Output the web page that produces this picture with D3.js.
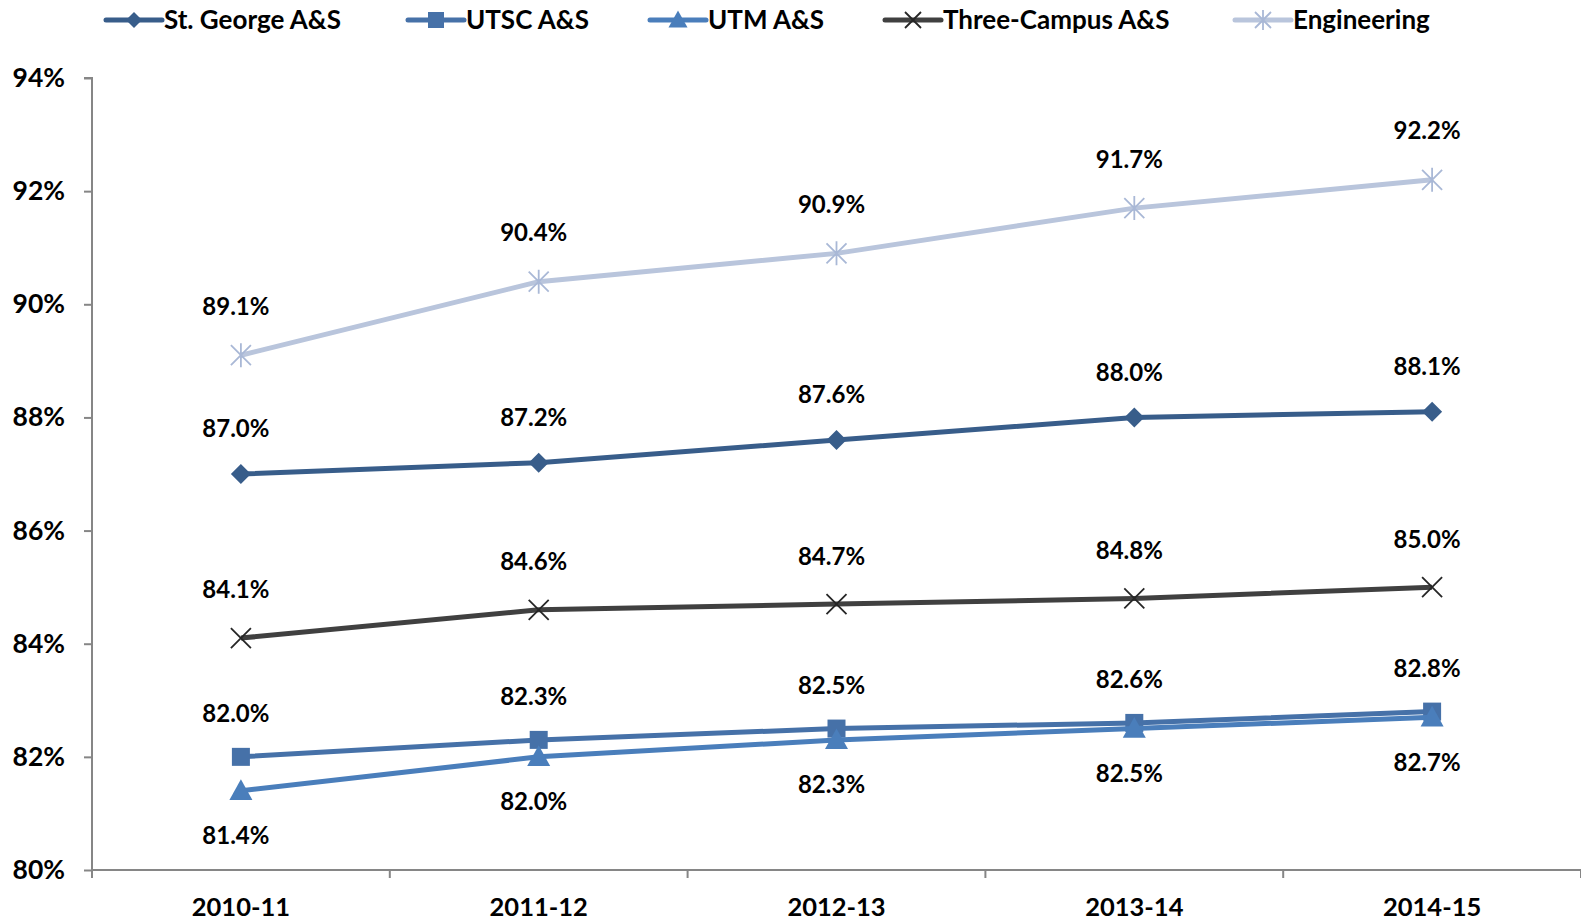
<!DOCTYPE html>
<html><head><meta charset="utf-8">
<script src="https://cdn.jsdelivr.net/npm/d3@7"></script>
<style>body{margin:0;background:#fff}svg{display:block}text{font-family:Lato,"Open Sans",sans-serif;font-weight:bold;fill:#000}</style>
</head><body><svg id="c" width="1581" height="923"></svg>
<script>
const categories = ["2010-11","2011-12","2012-13","2013-14","2014-15"];
const seriesNames = ["St. George A&S","UTSC A&S","UTM A&S","Three-Campus A&S","Engineering"];
const stGeorge = [87.0,87.2,87.6,88.0,88.1];
const utsc = [82.0,82.3,82.5,82.6,82.8];
const utm = [81.4,82.0,82.3,82.5,82.7];
const threeCampus = [84.1,84.6,84.7,84.8,85.0];
const engineering = [89.1,90.4,90.9,91.7,92.2];
const yTicks = [80,82,84,86,88,90,92,94];

const series = [
 {name:seriesNames[0], values:stGeorge, color:"#385d8a", marker:"diamond", labelPos:"above", off:45},
 {name:seriesNames[1], values:utsc, color:"#4671a8", marker:"square", labelPos:"above", off:43},
 {name:seriesNames[2], values:utm, color:"#4a7ebb", marker:"triangle", labelPos:"below", off:45},
 {name:seriesNames[3], values:threeCampus, color:"#404040", marker:"x", labelPos:"above", off:48},
 {name:seriesNames[4], values:engineering, color:"#b9c5dc", marker:"star", labelPos:"above", off:49}
];

const svg = d3.select("#c");
const x = d3.scaleBand().domain(categories).range([92,1581]);
const y = d3.scaleLinear().domain([80,94]).range([870,78]);

const yAxis = svg.append("g").attr("transform","translate(92,0)")
  .call(d3.axisLeft(y).tickValues(yTicks).tickSize(8).tickFormat(d=>d+"%"));
yAxis.select(".domain").attr("stroke","#868686").attr("stroke-width",2).attr("d","M-8,78H0V870");
yAxis.selectAll(".tick line").attr("stroke","#868686").attr("stroke-width",2);
yAxis.selectAll(".tick text").attr("x",-27).attr("font-size",26.5).style("font-family","Lato").style("font-weight","bold");

const xAxis = svg.append("g").attr("transform","translate(0,870)")
  .call(d3.axisBottom(x).tickSize(0).tickFormat(d=>d));
xAxis.select(".domain").attr("stroke","#868686").attr("stroke-width",2).attr("d","M92,0H1581");
xAxis.selectAll(".tick text").attr("y",28).attr("font-size",25.5).style("font-family","Lato").style("font-weight","bold");
svg.append("g").selectAll("line").data(categories.concat([null])).join("line")
  .attr("x1",(d,i)=> i<categories.length ? x(d) : x(categories[categories.length-1])+x.bandwidth())
  .attr("x2",(d,i)=> i<categories.length ? x(d) : x(categories[categories.length-1])+x.bandwidth())
  .attr("y1",870).attr("y2",878).attr("stroke","#868686").attr("stroke-width",2);

const cx = d => x(d)+x.bandwidth()/2;

function drawMarker(g, type, color, size){
  const s=size/2;
  if(type==="diamond"){
    g.append("path").attr("d",`M0,${-s}L${s},0L0,${s}L${-s},0Z`).attr("fill",color);
  } else if(type==="square"){
    g.append("rect").attr("x",-s).attr("y",-s).attr("width",size).attr("height",size).attr("fill",color);
  } else if(type==="triangle"){
    g.append("path").attr("d",`M0,${-s}L${s},${s*0.8}L${-s},${s*0.8}Z`).attr("fill",color);
  } else if(type==="x"){
    g.append("path").attr("d",`M${-s},${-s}L${s},${s}M${-s},${s}L${s},${-s}`).attr("stroke",color).attr("stroke-width",1.8);
  } else if(type==="star"){
    g.append("path").attr("d",`M${-s},${-s}L${s},${s}M${-s},${s}L${s},${-s}M0,${-s-2}V${s+2}`).attr("stroke",color).attr("stroke-width",1.8);
  }
}

const markerSize = {diamond:20, square:18, triangle:23, x:20, star:20};
const line = d3.line().x((d,i)=>cx(categories[i])).y(d=>y(d));
series.forEach(s=>{
  const g = svg.append("g");
  g.append("path").datum(s.values).attr("d",line).attr("fill","none").attr("stroke",s.color).attr("stroke-width",5);
  s.values.forEach((v,i)=>{
    const m = g.append("g").attr("transform",`translate(${cx(categories[i])},${y(v)})`);
    drawMarker(m, s.marker, s.marker==="x"?"#262626":(s.marker==="star"?"#a9b8d6":s.color), markerSize[s.marker]);
    g.append("text").attr("x",cx(categories[i])-5)
      .attr("y", y(v) + (s.labelPos==="above" ? -s.off : s.off))
      .attr("dy","0.35em").attr("text-anchor","middle").attr("font-size",24)
      .text(v.toFixed(1)+"%");
  });
});

const legendX = [106,408,650,885,1235];
series.forEach((s,i)=>{
  const g = svg.append("g").attr("transform",`translate(${legendX[i]},20)`);
  g.append("line").attr("x1",0).attr("x2",56).attr("y1",0).attr("y2",0).attr("stroke",s.color).attr("stroke-width",5).attr("stroke-linecap","round");
  const m = g.append("g").attr("transform","translate(28,0)");
  drawMarker(m, s.marker, s.marker==="x"?"#262626":(s.marker==="star"?"#a9b8d6":s.color), s.marker==="triangle"?19:16);
  g.append("text").attr("x",58).attr("dy","0.35em").attr("font-size",26).text(s.name);
});
</script></body></html>
